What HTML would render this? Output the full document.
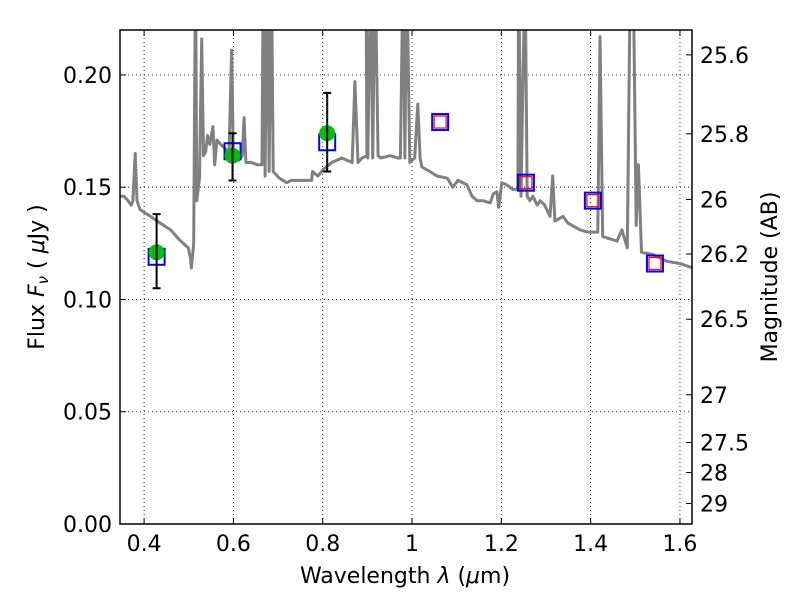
<!DOCTYPE html>
<html><head><meta charset="utf-8"><style>
body{margin:0;background:#fff;}
svg text{font-family:"DejaVu Sans","Liberation Sans",sans-serif;}
</style></head><body>
<svg id="chart" width="800" height="600" xmlns="http://www.w3.org/2000/svg">
<defs><clipPath id="clip"><rect x="120" y="30" width="572" height="494"/></clipPath></defs>
<rect x="0" y="0" width="800" height="600" fill="#fff"/>
<g id="grid"></g>
<g id="plot" clip-path="url(#clip)"></g>
<rect x="120" y="30" width="572" height="494" fill="none" stroke="#000" stroke-width="1.5"/>
<g id="axes"></g>
<text x="405" y="583" font-size="22" text-anchor="middle">Wavelength  <tspan font-style="italic">λ</tspan> (<tspan font-style="italic">μ</tspan>m)</text>
<text transform="translate(44,277) rotate(-90)" font-size="22" text-anchor="middle">Flux  <tspan font-style="italic">F<tspan font-size="15" dy="4">ν</tspan></tspan><tspan dy="-4">  ( </tspan><tspan font-style="italic">μ</tspan>Jy )</text>
<text transform="translate(777,277) rotate(-90)" font-size="22" text-anchor="middle">Magnitude (AB)</text>
</svg>
<script>
const xTicks=[0.4,0.6,0.8,1.0,1.2,1.4,1.6];
const xTickLabels=["0.4","0.6","0.8","1","1.2","1.4","1.6"];
const yTicks=[0,0.05,0.10,0.15,0.20];
const yTickLabels=["0.00","0.05","0.10","0.15","0.20"];
const magTicks=[25.6,25.8,26,26.2,26.5,27,27.5,28,29];
const magTickLabels=["25.6","25.8","26","26.2","26.5","27","27.5","28","29"];
const specWave=[0.346,0.355,0.364,0.371,0.375,0.380,0.384,0.391,0.414,0.436,0.459,0.477,0.493,0.499,0.504,0.506,0.511,0.515,0.518,0.524,0.529,0.533,0.538,0.542,0.547,0.554,0.558,0.563,0.572,0.583,0.590,0.596,0.600,0.612,0.620,0.624,0.628,0.640,0.653,0.664,0.667,0.671,0.676,0.680,0.685,0.689,0.703,0.719,0.730,0.753,0.775,0.777,0.789,0.802,0.820,0.843,0.866,0.872,0.879,0.888,0.899,0.897,0.901,0.908,0.912,0.917,0.924,0.930,0.951,0.969,0.974,0.980,0.984,0.988,0.995,1.006,1.013,1.018,1.022,1.040,1.056,1.079,1.091,1.103,1.123,1.134,1.146,1.159,1.175,1.182,1.190,1.194,1.201,1.212,1.226,1.237,1.239,1.244,1.253,1.258,1.264,1.271,1.280,1.287,1.297,1.309,1.315,1.320,1.338,1.349,1.376,1.394,1.416,1.421,1.427,1.459,1.470,1.482,1.489,1.495,1.502,1.507,1.514,1.539,1.571,1.600,1.629];
const specFlux=[0.146,0.146,0.144,0.142,0.144,0.165,0.144,0.140,0.137,0.134,0.131,0.127,0.124,0.123,0.118,0.114,0.125,0.25,0.144,0.154,0.216,0.164,0.166,0.173,0.169,0.177,0.160,0.171,0.169,0.167,0.164,0.211,0.163,0.162,0.164,0.181,0.161,0.161,0.160,0.160,0.25,0.155,0.25,0.157,0.25,0.157,0.154,0.152,0.153,0.153,0.153,0.157,0.155,0.158,0.161,0.163,0.161,0.197,0.161,0.163,0.164,0.25,0.163,0.25,0.163,0.25,0.164,0.163,0.164,0.163,0.163,0.25,0.163,0.25,0.161,0.163,0.187,0.163,0.159,0.157,0.155,0.154,0.150,0.153,0.151,0.146,0.144,0.144,0.143,0.147,0.148,0.141,0.152,0.151,0.149,0.149,0.25,0.146,0.25,0.146,0.144,0.146,0.142,0.144,0.142,0.137,0.155,0.135,0.137,0.134,0.131,0.130,0.130,0.217,0.128,0.126,0.131,0.123,0.25,0.25,0.133,0.160,0.121,0.120,0.117,0.116,0.114];
const obsWave=[0.428,0.598,0.810];
const obsFlux=[0.121,0.164,0.174];
const obsLow=[0.105,0.153,0.157];
const obsHigh=[0.138,0.174,0.192];
const modelWave=[0.428,0.598,0.810,1.063,1.255,1.405,1.544];
const modelFlux=[0.119,0.166,0.170,0.179,0.152,0.144,0.116];
const predWave=[1.063,1.255,1.405,1.544];
const predFlux=[0.179,0.152,0.144,0.116];

const NS="http://www.w3.org/2000/svg";
const X0=120,X1=692,Y0=524,Y1=30,xmin=0.346,xmax=1.627,ymin=0,ymax=0.22;
const sx=v=>X0+(v-xmin)/(xmax-xmin)*(X1-X0);
const sy=v=>Y0-(v-ymin)/(ymax-ymin)*(Y0-Y1);
const magToFlux=m=>Math.pow(10,(23.9-m)/2.5);
function mk(tag,attrs,parent){const e=document.createElementNS(NS,tag);for(const k in attrs)e.setAttribute(k,attrs[k]);parent.appendChild(e);return e;}
const grid=document.getElementById('grid'),plot=document.getElementById('plot'),axes=document.getElementById('axes');

xTicks.forEach((t,i)=>{
  const x=sx(t);
  const g=mk('line',{x1:x,x2:x,y1:Y1,y2:Y0,stroke:'#000','stroke-width':0.8,'stroke-dasharray':'1,3'},grid);
  
  
  const tb=mk('line',{x1:x,x2:x,y1:Y0,y2:Y0-6,stroke:'#000'},axes);
  
  
  const tt=mk('line',{x1:x,x2:x,y1:Y1,y2:Y1+6,stroke:'#000'},axes);
  
  
  const l=mk('text',{x:x,y:Y0+27,'font-size':22,'text-anchor':'middle'},axes);
  l.textContent=xTickLabels[i];
  
  
});
yTicks.forEach((t,i)=>{
  const y=sy(t);
  const g=mk('line',{x1:X0,x2:X1,y1:y,y2:y,stroke:'#000','stroke-width':0.8,'stroke-dasharray':'1,3'},grid);
  
  
  const tk=mk('line',{x1:X0,x2:X0+6,y1:y,y2:y,stroke:'#000'},axes);
  
  
  const l=mk('text',{x:X0-8,y:y+8,'font-size':22,'text-anchor':'end'},axes);
  l.textContent=yTickLabels[i];
  
  
});
magTicks.forEach((m,i)=>{
  const y=sy(magToFlux(m));
  const tk=mk('line',{x1:X1-6,x2:X1,y1:y,y2:y,stroke:'#000'},axes);
  
  
  const l=mk('text',{x:X1+8,y:y+8,'font-size':22,'text-anchor':'start'},axes);
  l.textContent=magTickLabels[i];
  
  
});

let d='';
specWave.forEach((w,i)=>{d+=(i?'L':'M')+sx(w).toFixed(1)+','+sy(specFlux[i]).toFixed(1);});
const sp=mk('path',{d:d,fill:'none',stroke:'#808080','stroke-width':3,'stroke-linejoin':'round'},plot);



modelWave.forEach((w,i)=>{
  const s=mk('rect',{x:sx(w)-8,y:sy(modelFlux[i])-8,width:16,height:16,fill:'none',stroke:'#0000ff','stroke-width':2},plot);
  
  
});
predWave.forEach((w,i)=>{
  const s=mk('rect',{x:sx(w)-6,y:sy(predFlux[i])-6,width:12,height:12,fill:'none',stroke:'#ff0000','stroke-width':1.2},plot);
  
  
});
obsWave.forEach((w,i)=>{
  const x=sx(w);
  const c=mk('circle',{cx:x,cy:sy(obsFlux[i]),r:8,fill:'#00c000'},plot);
  
  
  const e=mk('path',{d:`M${x},${sy(obsLow[i])}V${sy(obsHigh[i])}M${x-4},${sy(obsLow[i])}H${x+4}M${x-4},${sy(obsHigh[i])}H${x+4}`,stroke:'#000','stroke-width':2,fill:'none'},plot);
  
  
});
</script>
</body></html>
